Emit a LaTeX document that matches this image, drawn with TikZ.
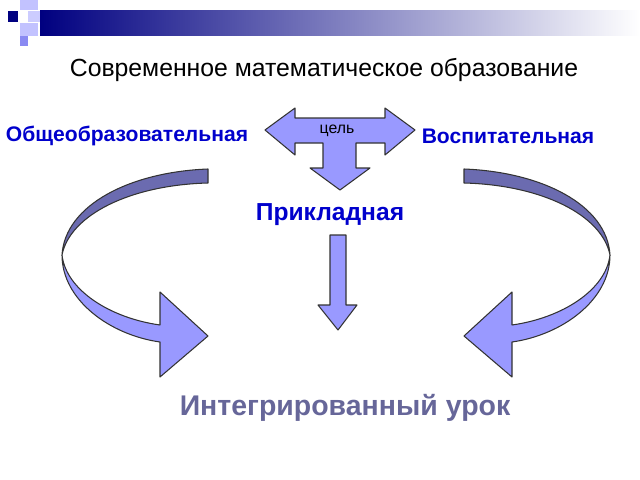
\documentclass[tikz,border=0pt]{standalone}
\usepackage{fontspec}
\setmainfont{Liberation Sans}
\definecolor{lightblue}{HTML}{9999FF}
\definecolor{darkband}{HTML}{6B6BB0}
\definecolor{navy}{HTML}{000080}
\definecolor{textblue}{HTML}{0000CC}
\definecolor{greyblue}{HTML}{666699}
\tikzset{
  arrowshape/.style={draw=black!80, line width=0.6pt, fill=lightblue, line join=round},
  band/.style={arrowshape, fill=darkband},
  label/.style={font=\bfseries\fontsize{12}{14}\selectfont, text=textblue},
}
\begin{document}
\begin{tikzpicture}[x=0.02cm, y=-0.02cm]
\useasboundingbox (0,0) rectangle (640,480);
% banner
\shade[left color=navy, right color=white] (40,10) rectangle (640,35);
\fill[navy] (8,11) rectangle (18,22);
\fill[lightblue!60] (20,0) rectangle (38,10);
\fill[lightblue!50] (28,11) rectangle (40,22);
\fill[lightblue!60] (20,23) rectangle (38,36);
\fill[lightblue!90!navy] (20,36) rectangle (28,46);
% titles
\node (title) at (324,70) {\fontsize{14.1}{17}\selectfont Современное математическое образование};
\node[label] (general) at (127,136) {Общеобразовательная};
\node[label] (moral) at (508,136) {Воспитательная};
\node[label, font=\bfseries\fontsize{14}{16}\selectfont] (applied) at (330,215) {Прикладная};
\node[font=\bfseries\fontsize{16.2}{20}\selectfont, text=greyblue] (lesson) at (345,408) {Интегрированный урок};
% three-way arrow
\draw[arrowshape] (265,130) -- (295,108) -- (295,118) -- (385,118) -- (385,108) -- (415,130)
  -- (385,155) -- (385,143) -- (356,143) -- (356,168) -- (370,168) -- (340,190)
  -- (310,168) -- (323,168) -- (323,143) -- (295,143) -- (295,155) -- cycle;
\node[font=\fontsize{9}{11}\selectfont] (goal) at (337,131) {цель};
% centre arrow
\draw[arrowshape] (330,235) -- (346,235) -- (346,305) -- (357,305) -- (338,330) -- (318,305) -- (330,305) -- cycle;
% curved arrows
\foreach \s/\o in {1/0, -1/672} {
  \begin{scope}[xshift=\o*0.02cm, xscale=\s]
    \draw[band] (208,169) .. controls (130,172) and (65,205) .. (62,255)
      .. controls (70,215) and (130,185) .. (208,183) -- cycle;
    \draw[arrowshape] (62,255) .. controls (62,300) and (110,335) .. (160,342)
      -- (160,377) -- (208,336) -- (160,292) -- (160,325)
      .. controls (110,318) and (66,290) .. (62,255);
  \end{scope}
}
\end{tikzpicture}
\end{document}
